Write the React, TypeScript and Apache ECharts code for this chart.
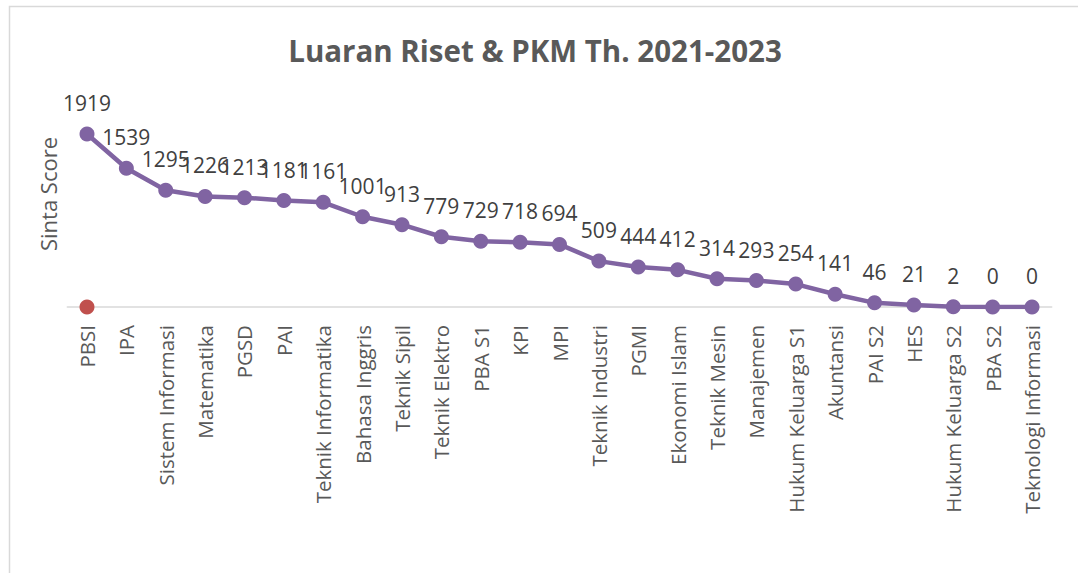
import React, { useEffect, useRef } from "react";
import * as echarts from "echarts";

const categories = [
  "PBSI", "IPA", "Sistem Informasi", "Matematika", "PGSD", "PAI",
  "Teknik Informatika", "Bahasa Inggris", "Teknik Sipil", "Teknik Elektro",
  "PBA S1", "KPI", "MPI", "Teknik Industri", "PGMI", "Ekonomi Islam",
  "Teknik Mesin", "Manajemen", "Hukum Keluarga S1", "Akuntansi", "PAI S2",
  "HES", "Hukum Keluarga S2", "PBA S2", "Teknologi Informasi",
];
const sintaScores = [
  1919, 1539, 1295, 1226, 1213, 1181, 1161, 1001, 913, 779, 729, 718, 694,
  509, 444, 412, 314, 293, 254, 141, 46, 21, 2, 0, 0,
];
const secondSeries = [0];

const FONT = "'Open Sans', sans-serif";

export default function App() {
  const ref = useRef<HTMLDivElement>(null);
  useEffect(() => {
    if (!ref.current) return;
    const chart = echarts.init(ref.current, null, { renderer: "svg" });
    chart.setOption({
      animation: false,
      backgroundColor: "#ffffff",
      title: {
        text: "Luaran Riset & PKM Th. 2021-2023",
        left: 530,
        top: 30,
        textAlign: "center",
        textStyle: { fontFamily: FONT, fontSize: 29.5, fontWeight: "bold", color: "#595959" },
      },
      graphic: [
        {
          type: "rect",
          shape: { x: 9.5, y: 6.5, width: 1200, height: 800 },
          style: { fill: "none", stroke: "#D9D9D9", lineWidth: 1.5 },
          silent: true,
        },
        {
          type: "text",
          x: 48,
          y: 194,
          rotation: Math.PI / 2,
          style: {
            text: "Sinta Score",
            fontFamily: FONT,
            fontSize: 22,
            fill: "#595959",
            align: "center",
            verticalAlign: "middle",
          },
        },
      ],
      grid: { left: 67.3, right: 26.3, top: 126.7, bottom: 266 },
      xAxis: {
        type: "category",
        data: categories,
        boundaryGap: true,
        axisLine: { lineStyle: { color: "#D9D9D9", width: 1.5 } },
        axisTick: { show: false },
        axisLabel: {
          rotate: 90,
          interval: 0,
          margin: 18,
          fontFamily: FONT,
          fontSize: 20.5,
          color: "#595959",
        },
      },
      yAxis: {
        type: "value",
        min: 0,
        max: 2000,
        show: false,
        splitLine: { show: false },
      },
      series: [
        {
          type: "line",
          data: sintaScores,
          symbol: "circle",
          symbolSize: 15,
          itemStyle: { color: "#8064A2" },
          lineStyle: { color: "#8064A2", width: 4.5 },
          label: {
            show: true,
            position: "top",
            distance: 13,
            fontFamily: FONT,
            fontSize: 21,
            color: "#404040",
          },
          z: 3,
        },
        {
          type: "line",
          data: secondSeries,
          symbol: "circle",
          symbolSize: 15,
          itemStyle: { color: "#C0504D" },
          lineStyle: { width: 0 },
          z: 2,
        },
      ],
    });
    return () => chart.dispose();
  }, []);
  return (
    <div
      ref={ref}
      style={{ position: "fixed", left: 0, top: 0, width: 1078, height: 573 }}
    />
  );
}
